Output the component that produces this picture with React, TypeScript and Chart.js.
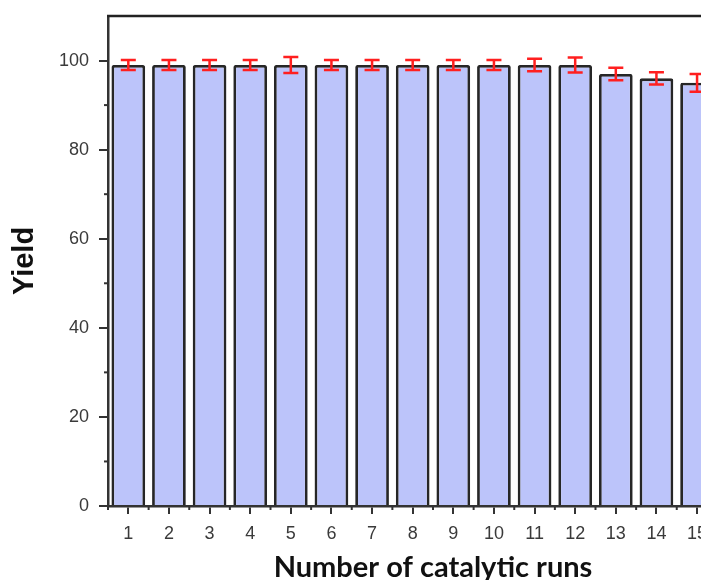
import React, { useEffect, useRef } from "react";
import { Chart, registerables } from "chart.js";

Chart.register(...registerables);

// Runs (the 16th category is the cropped continuation of the axis)
const runLabels = ["1", "2", "3", "4", "5", "6", "7", "8", "9", "10", "11", "12", "13", "14", "15", ""];
const yieldValues = [99, 99, 99, 99, 99, 99, 99, 99, 99, 99, 99, 99, 97, 96, 95];
const yieldErrors = [1.1, 1.1, 1.1, 1.1, 1.8, 1.1, 1.1, 1.1, 1.1, 1.1, 1.4, 1.7, 1.4, 1.4, 2.0];
const yMinorTicks = [10, 30, 50, 70, 90];

const decorPlugin = {
  id: "decor",
  afterDatasetsDraw(chart: any) {
    const { ctx, chartArea, scales } = chart;
    const x = scales.x;
    const y = scales.y;
    ctx.save();
    // top frame line
    ctx.strokeStyle = "#222";
    ctx.lineWidth = 2.5;
    ctx.beginPath();
    ctx.moveTo(chartArea.left - 1, chartArea.top);
    ctx.lineTo(chartArea.right + 20, chartArea.top);
    ctx.stroke();
    // y minor ticks
    ctx.strokeStyle = "#333";
    ctx.lineWidth = 2;
    yMinorTicks.forEach((v) => {
      const py = y.getPixelForValue(v);
      ctx.beginPath();
      ctx.moveTo(chartArea.left, py);
      ctx.lineTo(chartArea.left - 4, py);
      ctx.stroke();
    });
    // x minor ticks at category boundaries
    const n = runLabels.length;
    const step = x.getPixelForValue(1) - x.getPixelForValue(0);
    for (let i = 0; i <= n; i++) {
      const px = x.getPixelForValue(i) - step / 2;
      ctx.beginPath();
      ctx.moveTo(px, chartArea.bottom);
      ctx.lineTo(px, chartArea.bottom + 4);
      ctx.stroke();
    }
    // error bars
    const meta = chart.getDatasetMeta(0);
    ctx.strokeStyle = "#FF1F1F";
    ctx.lineWidth = 2.5;
    yieldValues.forEach((v, i) => {
      const el = meta.data[i];
      if (!el) return;
      const px = el.x;
      const top = y.getPixelForValue(v + yieldErrors[i]);
      const bot = y.getPixelForValue(v - yieldErrors[i]);
      const cap = 7.5;
      ctx.beginPath();
      ctx.moveTo(px, top);
      ctx.lineTo(px, bot);
      ctx.moveTo(px - cap, top);
      ctx.lineTo(px + cap, top);
      ctx.moveTo(px - cap, bot);
      ctx.lineTo(px + cap, bot);
      ctx.stroke();
    });
    ctx.restore();
  },
};

export default function App() {
  const ref = useRef<HTMLCanvasElement | null>(null);
  useEffect(() => {
    if (!ref.current) return;
    const chart = new Chart(ref.current, {
      type: "bar",
      data: {
        labels: runLabels,
        datasets: [
          {
            data: yieldValues,
            backgroundColor: "#BCC4FA",
            borderColor: "#262626",
            borderWidth: 2.8,
            borderRadius: 2,
            categoryPercentage: 1,
            barPercentage: 0.83,
          },
        ],
      },
      options: {
        responsive: false,
        animation: false,
        devicePixelRatio: 1,
        layout: { padding: { left: 0, right: 10, top: 8, bottom: 0 } },
        plugins: { legend: { display: false }, tooltip: { enabled: false } },
        scales: {
          x: {
            afterFit: (s: any) => {
              s.height = 74;
            },
            grid: {
              offset: false,
              drawOnChartArea: false,
              drawTicks: true,
              tickLength: 8,
              color: "#333",
              lineWidth: 2,
            },
            border: { color: "#333", width: 2.5 },
            ticks: {
              padding: 9,
              color: "#3a3a3a",
              font: { family: "Liberation Sans", size: 18 },
              maxRotation: 0,
              autoSkip: false,
            },
            title: {
              display: true,
              text: "Number of catalytic runs",
              color: "#111",
              font: { family: "Lato", size: 29, weight: "bold" },
              padding: { top: 0, bottom: -5 },
            },
          },
          y: {
            min: 0,
            max: 110,
            afterFit: (s: any) => {
              s.width = 100;
              s.paddingTop = 0;
              s.paddingBottom = 0;
            },
            afterBuildTicks: (s: any) => {
              s.ticks = s.ticks.filter((t: any) => t.value % 20 === 0);
            },
            grid: {
              drawOnChartArea: false,
              drawTicks: true,
              tickLength: 9,
              color: "#333",
              lineWidth: 2,
            },
            border: { color: "#333", width: 2.5 },
            ticks: {
              stepSize: 20,
              padding: 10,
              color: "#3a3a3a",
              font: { family: "Liberation Sans", size: 18 },
            },
            title: {
              display: true,
              text: "Yield",
              color: "#111",
              font: { family: "Liberation Sans", size: 29, weight: "bold" },
              padding: { top: 0, bottom: 0 },
            },
          },
        },
      },
      plugins: [decorPlugin],
    });
    return () => chart.destroy();
  }, []);
  return (
    <div style={{ width: 701, height: 572, overflow: "hidden" }}>
      <canvas ref={ref} width={760} height={572} style={{ width: 760, height: 572, display: "block" }} />
    </div>
  );
}
